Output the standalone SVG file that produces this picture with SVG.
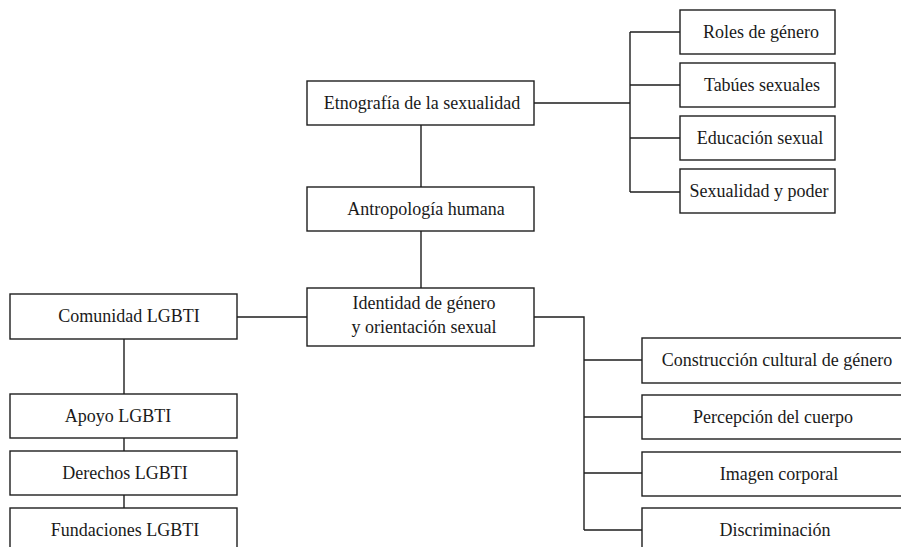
<svg xmlns="http://www.w3.org/2000/svg" width="901" height="547" viewBox="0 0 901 547">
<style>
rect.box{fill:#fff;stroke:#1e1e1e;stroke-width:1.4}
text{font-family:"Liberation Serif","Times New Roman",serif;font-size:18px;fill:#1a1a1a;text-anchor:middle}
#connectors path{fill:none;stroke:#1e1e1e;stroke-width:1.4}
</style>
<rect width="901" height="547" fill="#fff"/>
<g id="connectors">
<path d="M534 103H630M630 32V192M630 32H680M630 85H680M630 138H680M630 192H680"/>
<path d="M421 125V187M421 231V288"/>
<path d="M307 317H237M124 339V394M124 438V451M124 495V508"/>
<path d="M534 317H584V530M584 360H642M584 417H642M584 473H642M584 530H642"/>
</g>
<g id="etnografia"><rect class="box" x="307" y="81" width="227" height="44"/><text x="422" y="109">Etnografía de la sexualidad</text></g>
<g id="antropologia"><rect class="box" x="307" y="187" width="227" height="44"/><text x="426" y="215">Antropología humana</text></g>
<g id="identidad"><rect class="box" x="307" y="288" width="227" height="58"/><text x="424" y="309">Identidad de género</text><text x="424" y="333">y orientación sexual</text></g>
<g id="roles"><rect class="box" x="680" y="10" width="155" height="44"/><text x="761" y="38">Roles de género</text></g>
<g id="tabues"><rect class="box" x="680" y="63" width="155" height="44"/><text x="762" y="91">Tabúes sexuales</text></g>
<g id="educacion"><rect class="box" x="680" y="116" width="155" height="44"/><text x="760" y="144">Educación sexual</text></g>
<g id="sexpoder"><rect class="box" x="680" y="169" width="155" height="44"/><text x="759" y="197">Sexualidad y poder</text></g>
<g id="comunidad"><rect class="box" x="10" y="294" width="227" height="45"/><text x="129" y="322">Comunidad LGBTI</text></g>
<g id="apoyo"><rect class="box" x="10" y="394" width="227" height="44"/><text x="118" y="422">Apoyo LGBTI</text></g>
<g id="derechos"><rect class="box" x="10" y="451" width="227" height="44"/><text x="125" y="479">Derechos LGBTI</text></g>
<g id="fundaciones"><rect class="box" x="10" y="508" width="227" height="60"/><text x="125" y="536">Fundaciones LGBTI</text></g>
<g id="construccion"><rect class="box" x="642" y="338" width="280" height="45"/><text x="777" y="366">Construcción cultural de género</text></g>
<g id="percepcion"><rect class="box" x="642" y="395" width="280" height="44"/><text x="773" y="423">Percepción del cuerpo</text></g>
<g id="imagen"><rect class="box" x="642" y="452" width="280" height="44"/><text x="779" y="480">Imagen corporal</text></g>
<g id="discriminacion"><rect class="box" x="642" y="508" width="280" height="60"/><text x="775" y="536">Discriminación</text></g>
</svg>
